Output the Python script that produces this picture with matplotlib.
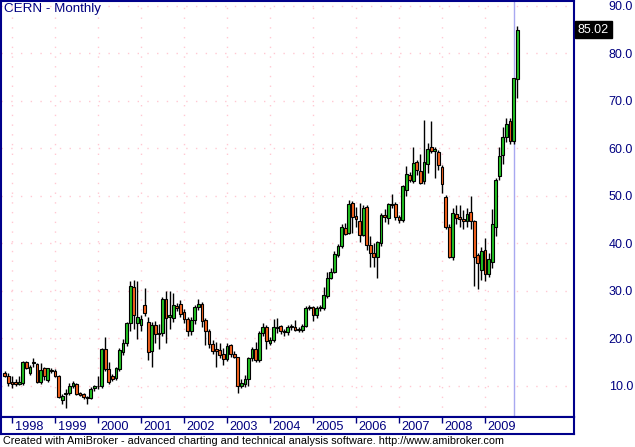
import matplotlib
matplotlib.use("Agg")
import matplotlib.pyplot as plt
import matplotlib.transforms as mtransforms
import numpy as np

plt.rcParams['font.family'] = ['Liberation Sans', 'DejaVu Sans']

# ---- data: CERN monthly bars, Nov 1997 .. Oct 2009 ----
start_year, start_month = 1997, 11
opens = [12.7, 12.1, 10.8, 10.8, 10.5, 10.6, 15.0, 12.7, 14.8, 14.6,
         10.9, 13.7, 11.3, 13.2, 13.2, 12.1, 7.05, 8.4, 8.6, 10.1,
         10.4, 8.5, 8.3, 7.6, 7.5, 9.6, 9.9, 9.9, 17.8, 13.5,
         12.0, 11.6, 13.5, 17.2, 19.1, 23.2, 30.9, 23.2, 22.8, 27.1,
         23.4, 17.4, 22.8, 21.0, 21.1, 28.3, 24.6, 24.3, 26.8, 27.2,
         25.6, 24.0, 21.6, 23.9, 26.6, 27.2, 23.9, 21.6, 18.8, 17.7,
         17.6, 16.7, 15.6, 18.6, 16.7, 16.0, 10.0, 10.4, 11.4, 15.8,
         17.7, 15.5, 21.2, 22.4, 19.1, 19.7, 22.3, 22.6, 21.6, 21.3,
         22.4, 22.5, 21.8, 21.8, 22.6, 26.5, 26.6, 24.9, 26.4, 26.4,
         28.9, 32.8, 34.1, 37.6, 39.5, 43.2, 42.3, 48.5, 45.8, 44.7,
         41.8, 47.6, 39.7, 38.1, 37.1, 40.0, 46.1, 45.3, 48.1, 48.3,
         45.6, 44.9, 51.3, 54.4, 53.2, 57.1, 55.3, 53.2, 56.7, 60.3,
         59.5, 59.3, 56.1, 49.8, 43.5, 37.2, 46.2, 45.6, 45.2, 44.7,
         46.6, 44.7, 37.6, 34.4, 38.6, 33.6, 36.1, 43.5, 54.2, 58.6,
         62.5, 65.8, 61.6, 74.6]
highs = [13.1, 12.7, 12.0, 11.5, 12.0, 15.3, 15.2, 14.4, 15.8, 14.8,
         14.8, 14.0, 13.8, 13.8, 13.6, 12.3, 8.4, 9.3, 10.6, 11.0,
         10.6, 8.8, 8.5, 7.8, 9.8, 10.2, 12.0, 18.0, 20.4, 15.0,
         12.6, 14.0, 17.9, 19.8, 23.5, 32.1, 32.3, 32.0, 25.0, 30.6,
         24.5, 23.5, 23.6, 23.0, 28.8, 29.9, 30.0, 29.5, 27.5, 28.0,
         26.2, 24.6, 24.5, 27.0, 28.3, 27.6, 24.3, 22.0, 19.6, 19.3,
         19.0, 18.0, 19.0, 18.9, 17.3, 16.2, 11.4, 12.3, 16.2, 18.3,
         19.3, 21.6, 23.2, 22.8, 20.3, 24.2, 24.3, 22.9, 22.0, 22.8,
         23.0, 23.9, 22.4, 23.0, 26.8, 27.0, 26.9, 26.8, 27.0, 30.9,
         33.9, 34.8, 38.5, 39.9, 44.2, 44.3, 49.2, 49.0, 47.7, 48.5,
         48.0, 48.0, 41.6, 40.0, 40.6, 46.5, 47.2, 48.6, 50.4, 48.8,
         46.0, 52.3, 56.3, 55.0, 60.3, 57.5, 58.8, 66.0, 61.1, 65.8,
         60.3, 59.7, 56.5, 50.2, 44.0, 47.5, 48.0, 48.0, 47.0, 47.5,
         49.9, 45.0, 38.0, 39.3, 41.2, 38.0, 47.3, 53.8, 60.4, 64.6,
         66.4, 66.5, 74.9, 85.8]
lows = [11.8, 10.0, 9.5, 9.9, 10.2, 10.3, 13.6, 12.3, 14.1, 10.6,
        10.5, 11.3, 10.8, 12.7, 11.8, 7.5, 6.2, 5.3, 8.2, 9.6,
        8.0, 7.9, 7.2, 6.3, 7.2, 9.0, 9.4, 9.6, 13.2, 10.5,
        11.0, 11.2, 13.2, 16.5, 18.5, 21.5, 22.0, 19.8, 21.5, 24.8,
        15.5, 14.1, 19.0, 17.8, 20.5, 19.1, 22.0, 23.5, 25.8, 24.5,
        23.3, 20.5, 20.8, 23.0, 26.0, 22.5, 18.6, 18.0, 16.8, 13.9,
        15.8, 14.4, 15.2, 16.2, 15.8, 8.5, 9.6, 9.8, 9.9, 15.2,
        15.0, 15.0, 20.5, 17.7, 18.6, 19.3, 21.2, 21.0, 20.6, 20.8,
        21.8, 21.5, 21.3, 21.4, 22.4, 26.0, 23.7, 24.3, 25.8, 26.0,
        28.6, 32.5, 33.8, 37.2, 39.0, 41.8, 42.0, 42.2, 43.5, 40.4,
        41.5, 38.6, 35.0, 35.0, 32.7, 39.5, 44.5, 44.2, 47.5, 44.9,
        44.3, 44.5, 50.0, 53.0, 52.8, 54.5, 52.5, 52.5, 54.8, 59.0,
        53.7, 55.5, 50.6, 43.0, 37.0, 36.5, 44.0, 43.5, 43.0, 43.5,
        43.0, 31.0, 30.5, 32.3, 32.0, 33.0, 34.8, 41.6, 53.4, 56.7,
        61.4, 61.0, 61.0, 70.7]
closes = [12.2, 10.6, 10.5, 10.5, 10.8, 15.0, 13.8, 14.0, 15.1, 10.9,
          13.4, 12.1, 13.7, 13.4, 12.1, 7.7, 7.9, 8.5, 10.1, 10.6,
          8.3, 8.1, 7.7, 7.4, 9.4, 9.9, 10.0, 17.8, 13.5, 10.9,
          11.4, 13.7, 17.6, 19.0, 23.2, 31.1, 24.9, 24.6, 24.2, 25.4,
          17.2, 22.8, 20.9, 21.2, 28.3, 24.3, 24.9, 27.1, 26.4, 25.1,
          24.2, 21.6, 23.9, 26.6, 27.2, 23.7, 21.6, 18.8, 17.4, 17.4,
          16.5, 15.6, 18.4, 16.7, 16.2, 9.9, 10.6, 11.4, 15.8, 17.7,
          15.5, 21.2, 22.4, 19.4, 19.7, 22.5, 22.5, 21.6, 21.3, 22.5,
          22.5, 21.8, 21.9, 22.6, 26.5, 26.7, 24.9, 26.4, 26.6, 29.2,
          32.8, 34.1, 37.7, 39.5, 43.5, 42.1, 48.3, 45.5, 45.1, 41.7,
          47.4, 39.7, 37.9, 37.1, 40.4, 46.1, 45.5, 48.3, 48.2, 45.5,
          44.9, 52.1, 54.6, 53.4, 56.9, 55.5, 52.8, 57.1, 59.8, 59.5,
          59.8, 56.5, 52.5, 43.5, 37.2, 46.4, 45.4, 45.2, 44.7, 46.2,
          44.7, 37.2, 35.9, 38.4, 33.6, 36.7, 44.1, 53.4, 58.4, 62.5,
          65.1, 61.6, 74.8, 85.02]
price_ticks = [10, 20, 30, 40, 50, 60, 70, 80, 90]
year_labels = ['1998', '1999', '2000', '2001', '2002', '2003', '2004',
               '2005', '2006', '2007', '2008', '2009']
title = 'CERN - Monthly'
footer = ('Created with AmiBroker - advanced charting and technical analysis '
          'software. http://www.amibroker.com')

# ---- styling ----
W, H = 635, 447
NAVY = '#000080'
FRAME = '#00008B'
GREEN = '#22C322'
RED = '#F8641E'
GRID = '#FFC8D2'

fig = plt.figure(figsize=(W / 100, H / 100), dpi=100)
fig.patch.set_facecolor('white')

# pixel geometry of the main panel
L, R, T, B = 1, 574, 1, 417
ax = fig.add_axes([L / W, 1 - B / H, (R - L) / W, (B - T) / H])
ax.set_facecolor('white')

n = len(closes)
idx = np.arange(n)
ax.set_xlim(-1.07, 158.85)
ax.set_ylim(3.47, 91.05)

# year positions (first bar of each year)
year_pos = [(int(y) - start_year) * 12 + (1 - start_month) for y in year_labels]

# grid
for p in price_ticks:
    ax.axhline(p, color=GRID, lw=1.0, ls=(0, (1, 6)), zorder=0)
for xp in year_pos:
    ax.axvline(xp, color=GRID, lw=1.0, ls=(0, (1, 6)), zorder=0)

# cursor line (selected bar)
ax.axvline(idx[-2], color='#A8A8F0', lw=1.0, zorder=1)

o = np.array(opens); h = np.array(highs); lo = np.array(lows); c = np.array(closes)
up = c >= o
colors = [GREEN if u else RED for u in up]
ax.vlines(idx, lo, h, color='black', lw=1.0, zorder=2)
body_bottom = np.minimum(o, c)
body_h = np.maximum(np.abs(c - o), 0.15)
ax.bar(idx, body_h, bottom=body_bottom, width=0.78, color=colors,
       edgecolor='black', linewidth=0.8, zorder=3)

# frame
for s in ax.spines.values():
    s.set_color(FRAME)
    s.set_linewidth(1.5)

# y tick labels on right
ax.yaxis.tick_right()
ax.set_yticks(price_ticks)
ax.set_yticklabels([f'{p:.1f}' for p in price_ticks])
ax.tick_params(axis='y', length=0, pad=(633 - R) * 0.72, labelsize=9.0,
               labelcolor=NAVY)
for lbl in ax.get_yticklabels():
    lbl.set_horizontalalignment('right')
ax.set_xticks([])

# title
ax.text(3 / (R - L), 1 - 2 / (B - T), title, transform=ax.transAxes,
        ha='left', va='top', fontsize=9.6, color=NAVY)

# last price box
trans = mtransforms.blended_transform_factory(ax.transAxes, ax.transData)
ax.text(1 + 4 / (R - L), closes[-1], f'{closes[-1]:.2f}', transform=trans,
        ha='left', va='center', fontsize=9.0, color='white', clip_on=False,
        bbox=dict(boxstyle='square,pad=0.22', fc='black', ec='black'))

# x-axis strip
B2 = 434
ax2 = fig.add_axes([L / W, 1 - B2 / H, (R - L) / W, (B2 - B) / H])
ax2.set_xlim(ax.get_xlim())
ax2.set_ylim(0, 1)
ax2.set_xticks([])
ax2.set_yticks([])
for s in ax2.spines.values():
    s.set_color(FRAME)
    s.set_linewidth(1.5)
ax2.vlines(year_pos, 1 - 6 / (B2 - B), 1, color=NAVY, lw=1.0)
for xp, lab in zip(year_pos, year_labels):
    ax2.text(xp + 0.7, 0.42, lab, ha='left', va='center', fontsize=9.2,
             color=NAVY)

# footer
fig.text(3 / W, 1 - 440.5 / H, footer, ha='left', va='center', fontsize=7.8,
         color='black')

fig.savefig('out.png', dpi=100, facecolor='white')
